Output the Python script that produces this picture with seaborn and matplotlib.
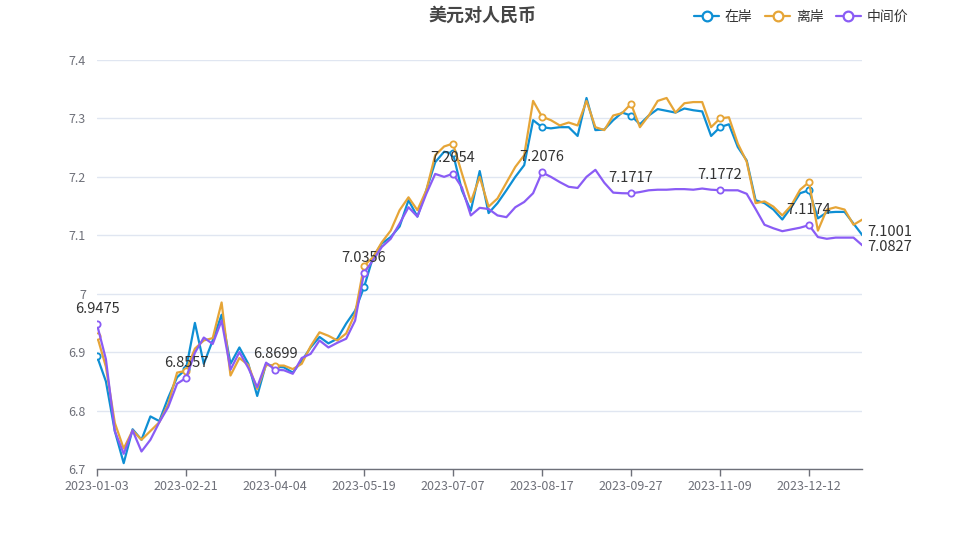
import numpy as np
import pandas as pd
import matplotlib
matplotlib.use('Agg')
import matplotlib.pyplot as plt
from matplotlib.lines import Line2D
import seaborn as sns

# tick labels (category axis, one label every 10 points)
fechas = ['2023-01-03', '2023-02-21', '2023-04-04', '2023-05-19', '2023-07-07',
          '2023-08-17', '2023-09-27', '2023-11-09', '2023-12-12']

# 在岸
zaian = [6.893, 6.85, 6.765, 6.71, 6.768, 6.75, 6.79, 6.782, 6.822, 6.857,
         6.871, 6.95, 6.88, 6.92, 6.964, 6.88, 6.908, 6.88, 6.825, 6.88,
         6.875, 6.874, 6.865, 6.885, 6.908, 6.926, 6.915, 6.923, 6.949, 6.971,
         7.011, 7.062, 7.086, 7.097, 7.115, 7.16, 7.132, 7.177, 7.225, 7.243,
         7.24, 7.177, 7.142, 7.21, 7.138, 7.155, 7.177, 7.2, 7.22, 7.297,
         7.285, 7.283, 7.285, 7.285, 7.27, 7.335, 7.28, 7.281, 7.297, 7.31,
         7.305, 7.29, 7.305, 7.316, 7.313, 7.31, 7.317, 7.314, 7.312, 7.27,
         7.285, 7.29, 7.251, 7.228, 7.16, 7.155, 7.144, 7.127, 7.148, 7.172,
         7.177, 7.129, 7.139, 7.14, 7.14, 7.12, 7.1001]

# 离岸
lian = [6.928, 6.875, 6.779, 6.735, 6.766, 6.75, 6.765, 6.78, 6.811, 6.865,
        6.868, 6.906, 6.92, 6.924, 6.985, 6.86, 6.89, 6.878, 6.837, 6.878,
        6.877, 6.877, 6.871, 6.88, 6.91, 6.934, 6.928, 6.92, 6.932, 6.966,
        7.048, 7.062, 7.088, 7.108, 7.143, 7.165, 7.143, 7.177, 7.237, 7.252,
        7.257, 7.206, 7.157, 7.2, 7.149, 7.163, 7.19, 7.217, 7.237, 7.33,
        7.303, 7.297, 7.288, 7.293, 7.288, 7.33, 7.285, 7.28, 7.305, 7.309,
        7.325, 7.285, 7.305, 7.33, 7.335, 7.31, 7.326, 7.328, 7.328, 7.285,
        7.30, 7.302, 7.257, 7.226, 7.155, 7.158, 7.149, 7.134, 7.151, 7.178,
        7.191, 7.108, 7.144, 7.148, 7.144, 7.118, 7.127]

# 中间价
zhongjian = [6.9475, 6.888, 6.765, 6.726, 6.766, 6.73, 6.75, 6.78, 6.806, 6.846,
             6.8557, 6.899, 6.925, 6.914, 6.954, 6.87, 6.90, 6.873, 6.84, 6.882,
             6.8699, 6.869, 6.863, 6.89, 6.897, 6.92, 6.908, 6.916, 6.923, 6.954,
             7.0356, 7.057, 7.08, 7.094, 7.12, 7.148, 7.132, 7.171, 7.205, 7.2,
             7.2054, 7.182, 7.134, 7.147, 7.145, 7.134, 7.131, 7.148, 7.157, 7.172,
             7.2076, 7.2, 7.191, 7.183, 7.181, 7.20, 7.212, 7.19, 7.173, 7.172,
             7.1717, 7.174, 7.177, 7.178, 7.178, 7.179, 7.179, 7.178, 7.18, 7.178,
             7.1772, 7.177, 7.177, 7.171, 7.145, 7.118, 7.112, 7.107, 7.11, 7.113,
             7.1174, 7.097, 7.094, 7.096, 7.096, 7.096, 7.0827]

series = {'在岸': zaian, '离岸': lian, '中间价': zhongjian}
colores = {'在岸': '#0e8fd4', '离岸': '#e6a537', '中间价': '#8a5cf5'}

sns.set_style('white')
plt.rcParams['font.family'] = ['Noto Sans CJK SC', 'DejaVu Sans']

n = len(zaian)
idx = np.arange(n)
marcas = list(range(0, n, 10))[:len(fechas)]

fig = plt.figure(figsize=(9.6, 5.4), dpi=100)
ax = fig.add_axes([97 / 960, 1 - 469 / 540, (862.4 - 97) / 960, 409 / 540])

for nombre, valores in series.items():
    df = pd.DataFrame({'idx': idx, 'valor': valores})
    sns.lineplot(data=df, x='idx', y='valor', ax=ax, color=colores[nombre],
                 linewidth=1.6, marker='o', markersize=4.5, markevery=marcas,
                 markerfacecolor='white', markeredgecolor=colores[nombre],
                 markeredgewidth=1.3, errorbar=None)

# value labels of 中间价 at marked points
for i in marcas:
    ax.annotate(f'{zhongjian[i]:.4f}', (i, zhongjian[i]), xytext=(0, 11),
                textcoords='offset points', ha='center', va='center',
                fontsize=10.5, color='#333333')

# end labels (在岸 nudged up, 中间价 nudged down so they just touch)
for valores, dy in ((zaian, 2.5), (zhongjian, -1.5)):
    ax.annotate(f'{valores[-1]:.4f}', (n - 1, valores[-1]), xytext=(3.5, dy),
                textcoords='offset points', ha='left', va='center',
                fontsize=10.5, color='#333333')

ax.set_xlim(0, n - 1)
ax.set_ylim(6.7, 7.4)
yt = np.round(np.arange(6.7, 7.41, 0.1), 1)
ax.set_yticks(yt)
ax.set_yticklabels([f'{v:g}' for v in yt])
ax.set_xticks(marcas)
ax.set_xticklabels(fechas)
ax.set_xlabel('')
ax.set_ylabel('')

ax.grid(axis='y', color='#E0E6F1', linewidth=1)
ax.grid(axis='x', visible=False)
ax.set_axisbelow(True)
for lado in ['top', 'right', 'left']:
    ax.spines[lado].set_visible(False)
ax.spines['bottom'].set_color('#6E7079')
ax.spines['bottom'].set_linewidth(1)
ax.tick_params(axis='y', length=0, pad=8, labelsize=9, labelcolor='#6E7079')
ax.tick_params(axis='x', length=5, width=1, color='#6E7079', pad=3,
               labelsize=9, labelcolor='#6E7079', direction='out', bottom=True)

fig.text(0.503, 1 - 15 / 540, '美元对人民币', ha='center', va='center',
         fontsize=13, fontweight='bold', color='#464646')

manijas = [Line2D([0], [0], color=colores[k], lw=1.6, marker='o', markersize=7,
                  markerfacecolor='white', markeredgecolor=colores[k],
                  markeredgewidth=1.6) for k in series]
fig.legend(manijas, list(series.keys()), loc='center right',
           bbox_to_anchor=(0.946, 1 - 17 / 540), ncol=3, frameon=False,
           fontsize=10, handlelength=1.8, handletextpad=0.4, columnspacing=0.9,
           labelcolor='#333333', borderaxespad=0, borderpad=0)

fig.savefig('out.png', dpi=100)
